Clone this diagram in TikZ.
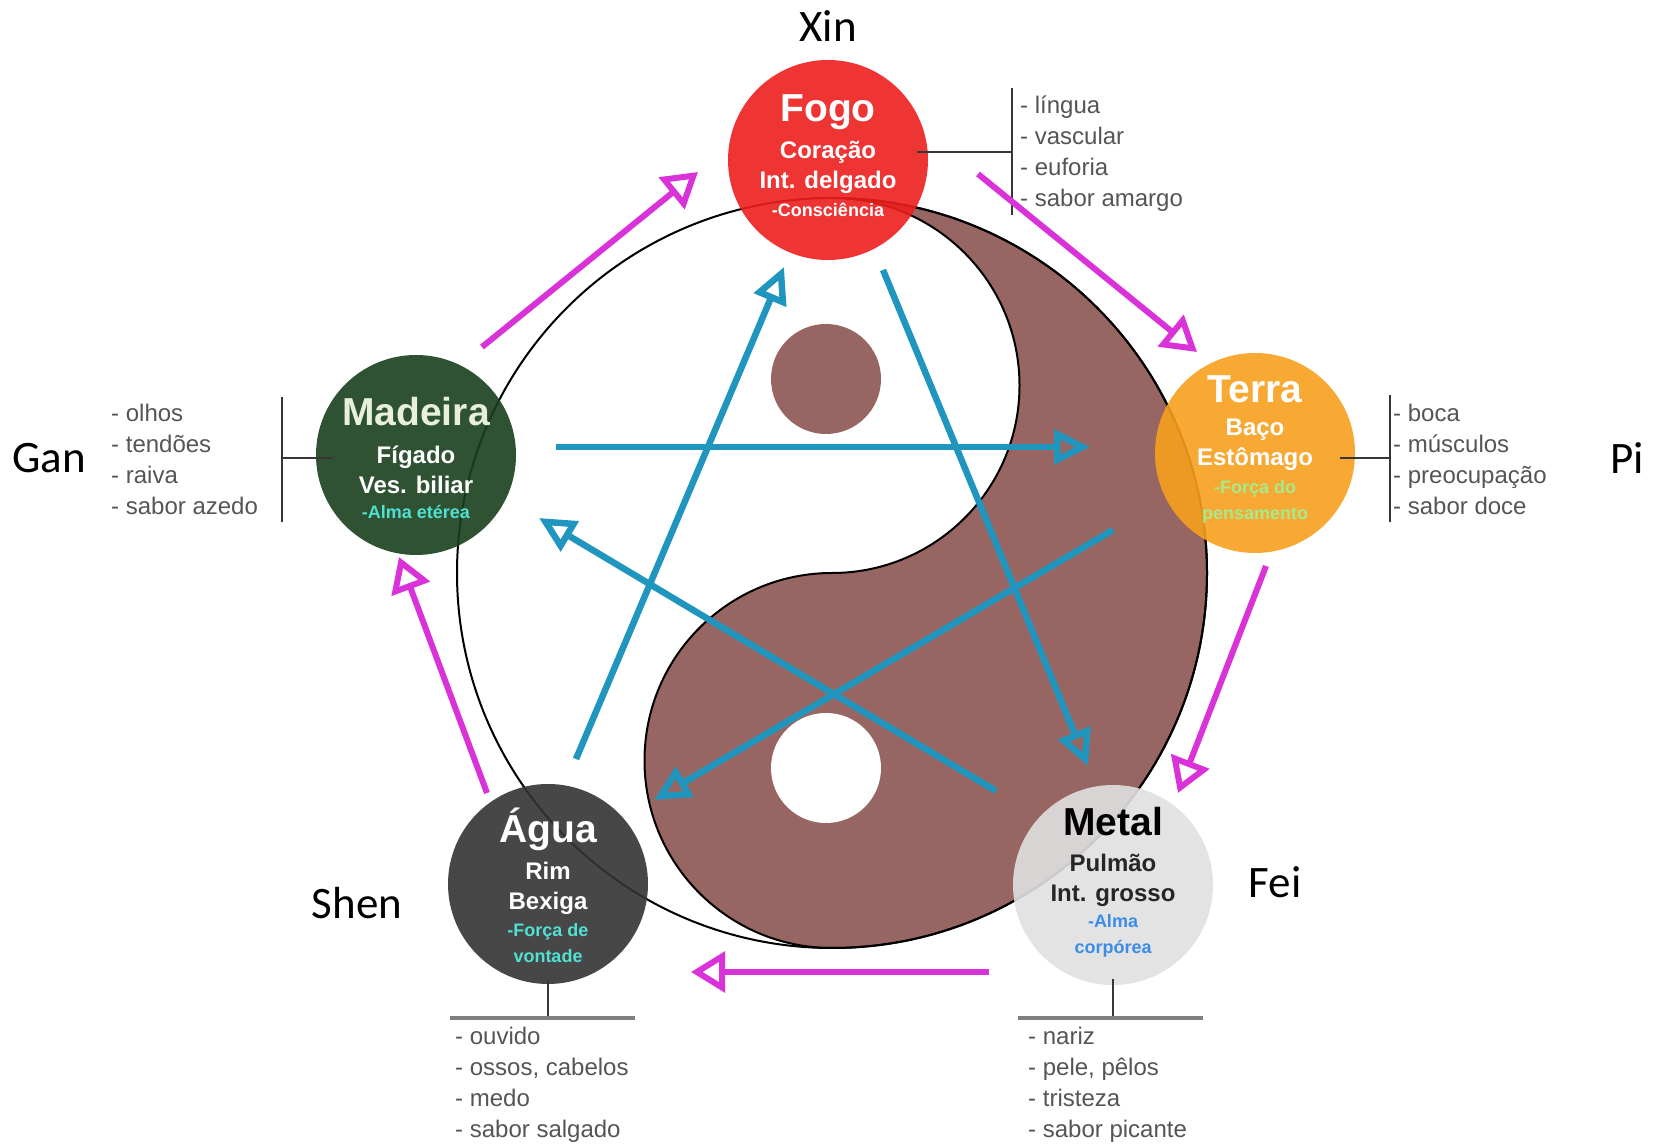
\documentclass[tikz,border=0pt]{standalone}
\usepackage{fontspec}
\setmainfont{Liberation Sans}
\newfontfamily\carl{Carlito}
\usetikzlibrary{arrows.meta}
\definecolor{fogoC}{RGB}{238,30,30}
\definecolor{madeiraC}{RGB}{24,64,28}
\definecolor{terraC}{RGB}{247,160,30}
\definecolor{aguaC}{RGB}{52,52,52}
\definecolor{metalC}{RGB}{224,224,224}
\definecolor{yyBrown}{RGB}{152,102,98}
\definecolor{magC}{RGB}{216,50,216}
\definecolor{bluC}{RGB}{32,150,190}
\definecolor{listGray}{RGB}{85,85,85}
\definecolor{cyanT}{RGB}{80,225,210}
\definecolor{greenT}{RGB}{165,235,140}
\definecolor{blueT}{RGB}{60,140,230}
\definecolor{creamT}{RGB}{232,240,220}
\definecolor{brkC}{RGB}{55,55,55}
\tikzset{
  elem/.style={circle, minimum size=200pt, inner sep=0pt, draw=none, fill opacity=0.9},
  ttl/.style={font=\fontsize{39}{42}\selectfont\bfseries, inner sep=0pt},
  org/.style={font=\fontsize{24}{30}\selectfont\bfseries, align=center, inner sep=0pt},
  soul/.style={font=\fontsize{18}{26}\selectfont\bfseries, align=center, inner sep=0pt},
  lst/.style={font=\fontsize{24}{31}\selectfont, text=listGray, align=left, inner sep=0pt, anchor=west},
  pin/.style={font=\carl\fontsize{45}{50}\selectfont, inner sep=0pt},
  brk/.style={draw=brkC, line width=2.5pt},
  brkh/.style={draw=gray, line width=4pt},
  gen/.style={draw=magC, line width=6pt, -{Triangle[open, length=34pt, width=40pt]}},
  ctl/.style={draw=bluC, line width=6.5pt, -{Triangle[open, length=36pt, width=34pt]}}
}
\begin{document}
\begin{tikzpicture}[x=1pt,y=1pt]
\fill[white] (0,0) rectangle (1654,1146);
\useasboundingbox (0,0) rectangle (1654,1146);

% yin-yang
\fill[yyBrown, draw=black, line width=2pt] (832,948) arc[start angle=90,end angle=-90,radius=375]
  arc[start angle=270,end angle=90,radius=187.5]
  arc[start angle=-90,end angle=90,radius=187.5] -- cycle;
\draw[black, line width=2pt] (832,573) circle[radius=375];
\fill[yyBrown] (826,767) circle[radius=55];
\fill[white] (826,378) circle[radius=55];

% element circles
\node[elem, fill=fogoC] (fogo) at (828,986) {};
\node[elem, fill=madeiraC] (madeira) at (416,691) {};
\node[elem, fill=terraC] (terra) at (1255,693) {};
\node[elem, fill=aguaC] (agua) at (548,262) {};
\node[elem, fill=metalC] (metal) at (1113,261) {};

% texts inside
\node[ttl, text=white] (fogoT) at (828,1034) {Fogo};
\node[org, text=white] (fogoO) at (828,979) {Coração\\Int. delgado};
\node[soul, text=white] (fogoS) at (828,936) {-Consciência};

\node[ttl, text=creamT] (madeiraT) at (416,734) {Madeira};
\node[org, text=white] (madeiraO) at (416,676) {Fígado\\Ves. biliar};
\node[soul, text=cyanT] (madeiraS) at (416,634) {-Alma etérea};

\node[ttl, text=white] (terraT) at (1255,757) {Terra};
\node[org, text=white] (terraO) at (1255,701) {Baço\\Estômago};
\node[soul, text=greenT] (terraS) at (1255,644) {-Força do\\pensamento};

\node[ttl, text=white] (aguaT) at (548,317) {Água};
\node[org, text=white] (aguaO) at (548,258) {Rim\\Bexiga};
\node[soul, text=cyanT] (aguaS) at (548,203) {-Força de\\vontade};

\node[ttl, text=black] (metalT) at (1113,324) {Metal};
\node[org, text=black!85] (metalO) at (1113,266) {Pulmão\\Int. grosso};
\node[soul, text=blueT] (metalS) at (1113,210) {-Alma\\corpórea};

% pinyin labels
\node[pin] (xin) at (828,1120) {Xin};
\node[pin] (gan) at (49,688) {Gan};
\node[pin] (pi) at (1627,688) {Pi};
\node[pin] (shen) at (357,243) {Shen};
\node[pin] (fei) at (1275,264) {Fei};

% lists
\node[lst] (fogoL) at (1020,992) {- língua\\- vascular\\- euforia\\- sabor amargo};
\node[lst] (terraL) at (1393,687) {- boca\\- músculos\\- preocupação\\- sabor doce};
\node[lst] (madeiraL) at (111,687) {- olhos\\- tendões\\- raiva\\- sabor azedo};
\node[lst] (aguaL) at (455,61) {- ouvido\\- ossos, cabelos\\- medo\\- sabor salgado};
\node[lst] (metalL) at (1028,61) {- nariz\\- pele, pêlos\\- tristeza\\- sabor picante};

% brackets
\coordinate (fogoB) at (1012,994);
\draw[brk] ([shift={(89,8)}]fogo.center) -- (fogoB);
\draw[brk] (1012,1058) -- (1012,931);
\coordinate (terraB) at (1390,688);
\draw[brk] ([shift={(85,-5)}]terra.center) -- (terraB);
\draw[brk] (1390,751) -- (1390,624);
\coordinate (madeiraB) at (282,688);
\draw[brk] ([shift={(-83,-3)}]madeira.center) -- (madeiraB);
\draw[brk] (282,749) -- (282,624);
\coordinate (aguaB) at (548,128);
\draw[brk] ([yshift=4pt]agua.south) -- (aguaB);
\draw[brkh] (450,128) -- (635,128);
\coordinate (metalB) at (1113,128);
\draw[brk] ([yshift=6pt]metal.south) -- (metalB);
\draw[brkh] (1018,128) -- (1203,128);

% generating cycle (magenta)
\coordinate (g1s) at (482,799); \coordinate (g1e) at (698,974);
\coordinate (g2s) at (978,972); \coordinate (g2e) at (1197,794);
\coordinate (g3s) at (1266,580); \coordinate (g3e) at (1178,353);
\coordinate (g4s) at (989,174); \coordinate (g4e) at (691,174);
\coordinate (g5s) at (487,353); \coordinate (g5e) at (399,589);
\draw[gen] (g1s) -- (g1e);
\draw[gen] (g2s) -- (g2e);
\draw[gen] (g3s) -- (g3e);
\draw[gen] (g4s) -- (g4e);
\draw[gen] (g5s) -- (g5e);

% controlling star (blue)
\coordinate (c1s) at (556,699); \coordinate (c1e) at (1090,699);
\coordinate (c2s) at (1113,616); \coordinate (c2e) at (654,346);
\coordinate (c3s) at (576,387); \coordinate (c3e) at (784,879);
\coordinate (c4s) at (883,876); \coordinate (c4e) at (1088,380);
\coordinate (c5s) at (996,355); \coordinate (c5e) at (539,628);
\draw[ctl] (c1s) -- (c1e);
\draw[ctl] (c2s) -- (c2e);
\draw[ctl] (c3s) -- (c3e);
\draw[ctl] (c4s) -- (c4e);
\draw[ctl] (c5s) -- (c5e);
\end{tikzpicture}
\end{document}
